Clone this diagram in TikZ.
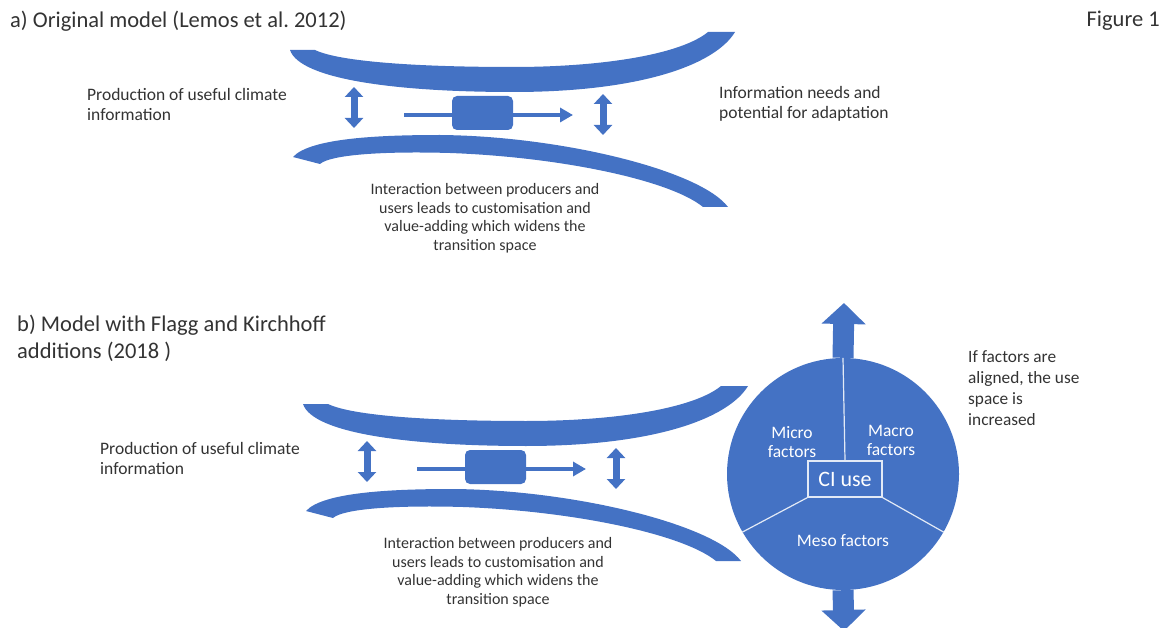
\documentclass[tikz,border=0pt]{standalone}
\usepackage{fontspec}
\setmainfont{Carlito}
\usetikzlibrary{arrows.meta}

\definecolor{officeblue}{HTML}{4472C4}
\definecolor{inkgrey}{HTML}{333333}

\tikzset{
  band/.style={fill=officeblue},
  twoway/.style={draw=officeblue, line width=7pt,
    {Triangle[width=18pt,length=10pt]}-{Triangle[width=18pt,length=10pt]}},
  flow/.style={draw=officeblue, line width=4pt, -{Triangle[width=14pt,length=13pt]}},
  bigarrow/.style={draw=officeblue, line width=21pt, -{Triangle[width=43pt,length=21pt]}},
  gapbox/.style={fill=officeblue, rounded corners=5pt, minimum width=61pt,
    minimum height=34pt, inner sep=0pt},
  note/.style={text=inkgrey, align=left, inner sep=0pt,
    font=\fontsize{17.5}{20}\selectfont},
  smallnote/.style={text=inkgrey, align=center, inner sep=0pt,
    font=\fontsize{16}{18.5}\selectfont},
  heading/.style={text=inkgrey, align=left, inner sep=0pt,
    font=\fontsize{22.5}{27}\selectfont},
  factor/.style={text=white, align=center, inner sep=0pt,
    font=\fontsize{17.5}{19}\selectfont},
  divider/.style={draw=white!85!officeblue, line width=1.2pt},
  % the narrowing space between the two curved bands
  transition/.pic={
    % Step 1: upper band
    \fill[band] (290,50) -- (315,50)
      .. controls (340,62) and (420,67) .. (513,67)
      .. controls (600,67) and (680,55) .. (708,32) -- (735,32)
      .. controls (715,65) and (640,92) .. (513,92)
      .. controls (400,92) and (300,80) .. (290,50) -- cycle;
    % Step 2: lower band
    \fill[band] (293,157)
      .. controls (310,138) and (380,135) .. (440,135)
      .. controls (560,136) and (700,170) .. (728,207) -- (703,207)
      .. controls (670,180) and (560,157) .. (450,153)
      .. controls (380,151) and (330,155) .. (320,164) -- cycle;
    % Step 3: double arrows between the bands
    \coordinate (-lefttop) at (354,87);
    \coordinate (-leftbot) at (354,128);
    \coordinate (-righttop) at (603,94);
    \coordinate (-rightbot) at (603,135);
    \draw[twoway] (-lefttop) -- (-leftbot);
    \draw[twoway] (-righttop) -- (-rightbot);
    % Step 4: flow through the box
    \coordinate (-flowin) at (404,115);
    \coordinate (-flowout) at (573,115);
    \draw[flow] (-flowin) -- (-flowout);
    \node[gapbox] (-box) at (482.5,113) {};
    % Step 5: texts
    \node[note, anchor=west] (-producers) at (87,104)
      {Production of useful climate\\information};
    \node[smallnote] (-interaction) at (485,218)
      {Interaction between producers and\\users leads to customisation and\\
       value-adding which widens the\\transition space};
  }
}

\begin{document}
\begin{tikzpicture}[x=1pt, y=-1pt]
  \useasboundingbox (0,0) rectangle (1167,628);

  % Step 1: headings
  \node[heading, anchor=west] (titlea) at (10,21) {a) Original model (Lemos et al.\ 2012)};
  \node[heading, anchor=east] (figure) at (1160,21) {Figure 1};
  \node[heading, anchor=west] (titleb) at (17,338)
    {b) Model with Flagg and Kirchhoff\\additions (2018 )};

  % Step 2: panel a, original model
  \pic (a) at (0,0) {transition};
  \node[note, anchor=west] (needs) at (719,104)
    {Information needs and\\potential for adaptation};

  % Step 3: panel b, same model shifted down
  \pic (b) at (13,354) {transition};

  % Step 4: arrows out of the use space
  \coordinate (uptip) at (844,303);
  \coordinate (downtip) at (844,631);
  \node[circle, minimum size=232pt, inner sep=0pt] (usespace) at (843,474) {};
  \draw[bigarrow] (usespace.north) -- (uptip);
  \draw[bigarrow] (usespace.south) -- (downtip);

  % Step 5: circle of factors around CI use
  \fill[officeblue] (usespace.center) circle[radius=116pt];
  \node[draw=white!85!officeblue, line width=1.2pt, minimum width=74pt,
    minimum height=36pt, inner sep=0pt, text=white,
    font=\fontsize{22}{24}\selectfont] (ciuse) at (845,479) {CI use};
  \draw[divider] (usespace.north) -- (ciuse.north);
  \draw[divider] (ciuse.south west) -- (usespace.210);
  \draw[divider] (ciuse.south east) -- (usespace.330);
  \node[factor] (micro) at (792,442) {Micro\\factors};
  \node[factor] (macro) at (891,440) {Macro\\factors};
  \node[factor] (meso) at (843,541) {Meso factors};

  % Step 6: note on the right
  \node[note, anchor=north west, font=\fontsize{17.3}{21}\selectfont] (aligned) at (968,350)
    {If factors are\\aligned, the use\\space is\\increased};
\end{tikzpicture}
\end{document}
